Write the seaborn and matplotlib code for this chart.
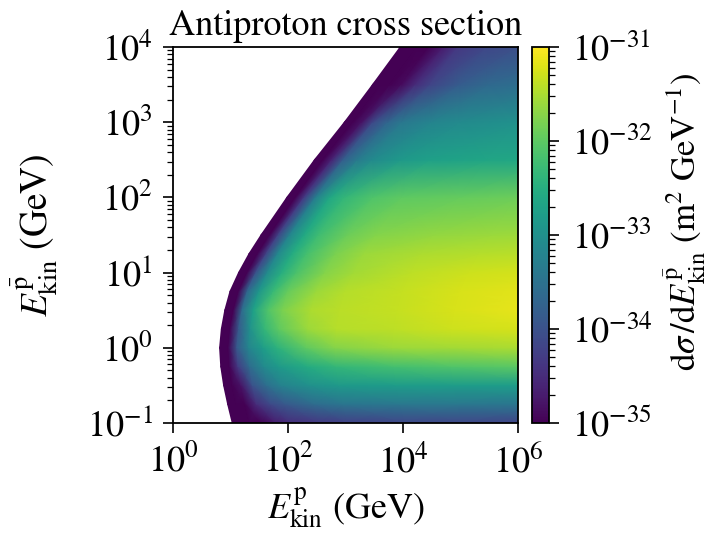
import numpy as np
import matplotlib
matplotlib.use("Agg")
import matplotlib.pyplot as plt
from matplotlib.colors import LogNorm
from matplotlib.ticker import FixedLocator, NullLocator, LogLocator, LogFormatterMathtext
import seaborn as sns

# ---- data ----
# antiproton kinetic energy rows (log10 GeV) and the production threshold in projectile energy (log10 GeV)
epbar_exp = [-1.0, -0.75, -0.5, -0.25, 0.0, 0.25, 0.5, 0.75, 1.0, 1.25, 1.5, 2.0, 2.5, 3.0, 3.5, 4.0]
thr_ep_exp = [1.03, 0.95, 0.88, 0.83, 0.81, 0.84, 0.90, 0.99, 1.14, 1.32, 1.53, 1.98, 2.46, 2.98, 3.47, 3.95]
# distance of each sample above the threshold (decades in projectile energy)
above_thr = [0.0, 0.15, 0.3, 0.5, 0.75, 1.0, 1.5, 2.0, 3.0, 4.0, 5.5]
# log10 of dsigma/dE (m^2/GeV); values below -35 are off the bottom of the colour scale
row_m100 = [-36, -35.8, -35.4, -35.0, -34.7, -34.5, -34.35, -34.25, -34.15, -34.15, -34.2]
row_m075 = [-36, -35.5, -35.0, -34.5, -34.1, -33.9, -33.6, -33.45, -33.4, -33.4, -33.45]
row_m050 = [-36, -35.3, -34.8, -34.0, -33.55, -33.25, -33.0, -32.85, -32.8, -32.8, -32.8]
row_m025 = [-36, -35.2, -34.3, -33.6, -33.1, -32.85, -32.55, -32.35, -32.2, -32.1, -32.0]
row_p000 = [-36, -35.1, -33.9, -33.2, -32.8, -32.45, -32.0, -31.75, -31.6, -31.55, -31.5]
row_p025 = [-36, -35.0, -33.9, -33.0, -32.35, -32.0, -31.6, -31.45, -31.4, -31.3, -31.25]
row_p050 = [-36, -35.1, -33.6, -32.7, -32.1, -31.8, -31.5, -31.42, -31.35, -31.25, -31.12]
row_p075 = [-36, -35.1, -33.7, -32.9, -32.3, -31.95, -31.6, -31.45, -31.35, -31.25, -31.15]
row_p100 = [-36, -35.2, -34.0, -33.1, -32.5, -32.15, -31.75, -31.55, -31.4, -31.3, -31.25]
row_p125 = [-36, -35.3, -34.2, -33.15, -32.55, -32.2, -31.8, -31.6, -31.5, -31.45, -31.4]
row_p150 = [-36, -35.3, -34.2, -33.2, -32.6, -32.25, -31.9, -31.75, -31.65, -31.6, -31.55]
row_p200 = [-36, -35.3, -34.3, -33.3, -32.6, -32.35, -32.1, -32.0, -31.95, -31.9, -31.9]
row_p250 = [-36, -35.4, -34.6, -33.8, -33.35, -33.1, -32.85, -32.75, -32.65, -32.6, -32.6]
row_p300 = [-36, -35.5, -34.8, -34.1, -33.7, -33.4, -33.2, -33.1, -33.0, -33.0, -33.0]
row_p350 = [-36, -35.6, -35.2, -34.9, -34.5, -34.2, -33.85, -33.65, -33.5, -33.5, -33.5]
row_p400 = [-36, -35.8, -35.5, -35.15, -34.7, -34.35, -34.15, -34.05, -34.0, -34.0, -34.0]

xticks = [1e0, 1e2, 1e4, 1e6]
yticks = [1e-1, 1e0, 1e1, 1e2, 1e3, 1e4]
cticks = [1e-35, 1e-34, 1e-33, 1e-32, 1e-31]

# ---- style ----
sns.set_style("ticks")
plt.rcParams["font.family"] = ["STIXGeneral", "DejaVu Serif"]
plt.rcParams["mathtext.fontset"] = "stix"
for k in ["axes.edgecolor", "xtick.color", "ytick.color", "text.color", "axes.labelcolor"]:
    plt.rcParams[k] = "black"

fig = plt.figure(figsize=(7.10, 5.43), dpi=100)
ax = fig.add_axes([0.2437, 0.221, 0.4859, 0.6924])
cax = fig.add_axes([0.7493, 0.221, 0.0240, 0.6924])

Z = np.array([row_m100, row_m075, row_m050, row_m025, row_p000, row_p025, row_p050, row_p075,
              row_p100, row_p125, row_p150, row_p200, row_p250, row_p300, row_p350, row_p400])
X = 10.0 ** (np.array(thr_ep_exp)[:, None] + np.array(above_thr)[None, :])
Y = 10.0 ** np.repeat(np.array(epbar_exp)[:, None], len(above_thr), axis=1)

cmap = sns.color_palette("viridis", as_cmap=True)
norm = LogNorm(vmin=1e-35, vmax=1e-31)

ax.set_xscale("log")
ax.set_yscale("log")
mesh = ax.pcolormesh(X, Y, 10.0 ** Z, shading="gouraud", cmap=cmap, norm=norm, rasterized=True)

ax.set_xlim(1e0, 1e6)
ax.set_ylim(1e-1, 1e4)
ax.xaxis.set_major_locator(FixedLocator(xticks))
ax.xaxis.set_minor_locator(NullLocator())
ax.xaxis.set_major_formatter(LogFormatterMathtext())
ax.yaxis.set_major_locator(FixedLocator(yticks))
ax.yaxis.set_minor_locator(LogLocator(base=10, subs=np.arange(2, 10), numticks=20))
ax.yaxis.set_major_formatter(LogFormatterMathtext())

fs = 26
ax.tick_params(which="major", length=7.5, width=1.2, labelsize=fs, direction="out")
ax.tick_params(axis="x", which="major", pad=8)
ax.tick_params(axis="y", which="major", pad=7)
ax.tick_params(which="minor", length=4, width=0.9, direction="out")
for s in ax.spines.values():
    s.set_linewidth(1.3)

ax.set_title("Antiproton cross section", fontsize=fs, pad=9)
ax.set_xlabel(r"$E_{\mathrm{kin}}^{\mathrm{p}}$ (GeV)", fontsize=fs)
ax.set_ylabel(r"$E_{\mathrm{kin}}^{\bar{\mathrm{p}}}$ (GeV)", fontsize=27)
ax.xaxis.set_label_coords(0.5, -0.165)
ax.yaxis.set_label_coords(-0.327, 0.5)

cb = fig.colorbar(mesh, cax=cax)
cb.set_ticks(cticks)
cb.ax.yaxis.set_major_formatter(LogFormatterMathtext())
cb.ax.tick_params(which="major", length=7.5, width=1.2, labelsize=fs, pad=9)
cb.ax.tick_params(which="minor", length=4, width=0.9)
cb.outline.set_linewidth(1.3)
cb.set_label(r"$\mathrm{d}\sigma\,/\mathrm{d}E_{\mathrm{kin}}^{\bar{\mathrm{p}}}$ (m$^{2}$ GeV$^{-1}$)",
             fontsize=25)
cb.ax.yaxis.set_label_coords(7.6, 0.535)

fig.savefig("out.png", dpi=100, facecolor="white")
